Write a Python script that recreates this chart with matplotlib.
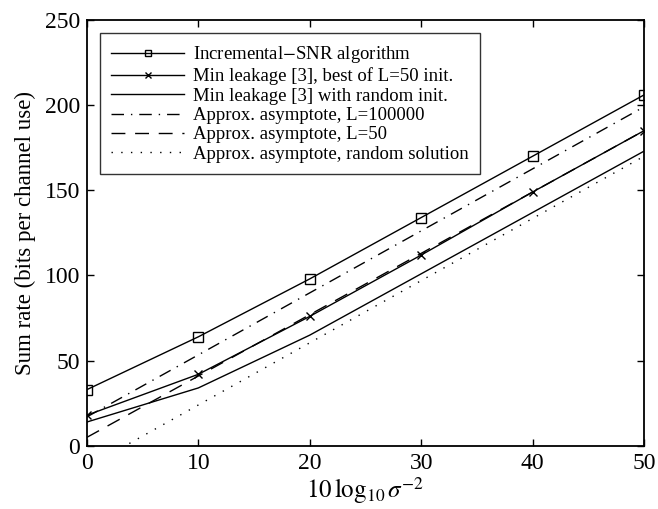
import numpy as np
import matplotlib
matplotlib.use("Agg")
import matplotlib.pyplot as plt

plt.rcParams['font.family'] = ['Liberation Serif', 'DejaVu Serif']
plt.rcParams['mathtext.fontset'] = 'stix'

snr = [0, 10, 20, 30, 40, 50]
incr_snr = [33, 64, 98, 134, 170, 206]
minleak_best = [18, 42, 76, 112, 149, 185]
minleak_rand = [14, 34, 65, 101, 137, 173]

asym_x = [0, 50]
asym_L100000 = [17, 199]
asym_L50 = [5, 185]
asym_random = [-12.5, 170]

fig = plt.figure(figsize=(6.58, 5.09), dpi=100)
ax = fig.add_axes([0.132, 0.124, 0.847, 0.837])

ax.plot(snr, incr_snr, 'k-s', mfc='none', ms=6.5, lw=1, label='Incremental$-$SNR algorithm')
ax.plot(snr, minleak_best, 'k-x', ms=6, lw=1, label='Min leakage [3], best of L=50 init.')
ax.plot(snr, minleak_rand, 'k-', lw=1, label='Min leakage [3] with random init.')
ax.plot(asym_x, asym_L100000, 'k', lw=1, dashes=[9, 5, 1, 5], label='Approx. asymptote, L=100000')
ax.plot(asym_x, asym_L50, 'k', lw=1, dashes=[10, 7], label='Approx. asymptote, L=50')
ax.plot(asym_x, asym_random, 'k', lw=1, dashes=[1, 6], label='Approx. asymptote, random solution')

ax.set_xlim(0, 50)
ax.set_ylim(0, 250)
ax.set_xticks(snr)
ax.set_yticks([0, 50, 100, 150, 200, 250])
ax.tick_params(direction='in', top=True, right=True, labelsize=17, length=5, width=1, pad=5)
for s in ax.spines.values():
    s.set_linewidth(1.3)

ax.set_xlabel(r'$10\,\log_{10}\sigma^{-2}$', fontsize=18, labelpad=1)
ax.set_ylabel('Sum rate (bits per channel use)', fontsize=16.5, labelpad=6)

leg = ax.legend(loc='upper left', fontsize=13.5, handlelength=3.9, handletextpad=0.45,
                markerscale=0.7, frameon=True, fancybox=False, edgecolor='black',
                borderaxespad=0.7, labelspacing=0.12, borderpad=0.6)
leg.get_frame().set_linewidth(1)

fig.savefig('out.png', dpi=100)
